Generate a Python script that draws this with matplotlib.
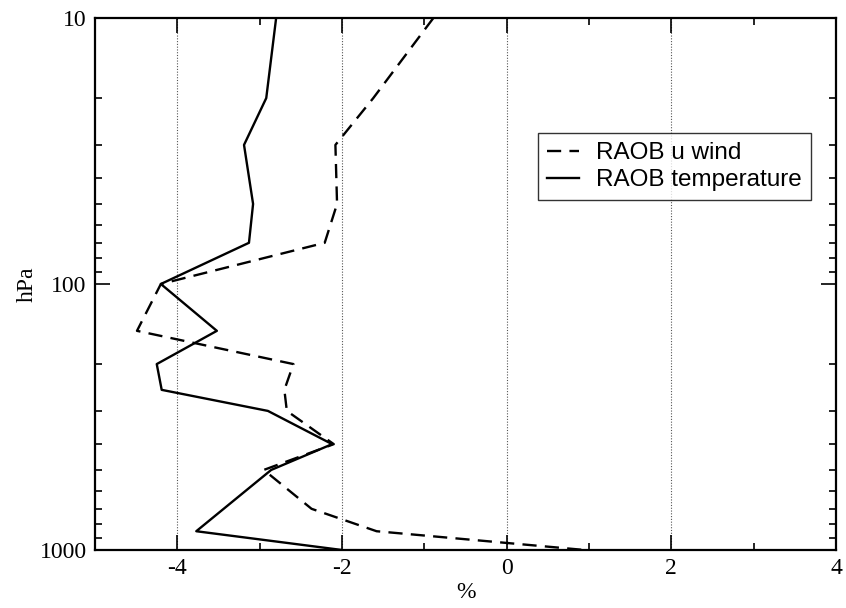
import matplotlib
matplotlib.use("Agg")
import matplotlib.pyplot as plt
from matplotlib.ticker import FixedLocator, NullFormatter

# pressure levels (hPa)
p_wind = [10, 20, 30, 50, 70, 100, 150, 200, 250, 300, 400, 500, 700, 850, 1000]
u_wind = [-0.89, -1.62, -2.08, -2.06, -2.21, -4.20, -4.49, -2.59, -2.70, -2.67, -2.10, -2.95, -2.37, -1.58, 0.95]

p_temp = [10, 20, 30, 50, 70, 100, 150, 200, 250, 300, 400, 500, 850, 1000]
temp = [-2.80, -2.92, -3.19, -3.08, -3.13, -4.20, -3.52, -4.25, -4.19, -2.90, -2.12, -2.86, -3.77, -2.00]

xticks = [-4, -2, 0, 2, 4]
xtick_labels = ["-4", "-2", "0", "2", "4"]
yticks = [10, 100, 1000]
ytick_labels = ["10", "100", "1000"]

fig = plt.figure(figsize=(8.46, 6.08), dpi=100)
ax = fig.add_axes([95/846, 58/608, 741/846, 532/608])

ax.plot(u_wind, p_wind, color="black", lw=1.7, ls=(0, (6, 3.5)), label="RAOB u wind")
ax.plot(temp, p_temp, color="black", lw=1.7, ls="-", label="RAOB temperature")

ax.set_yscale("log")
ax.set_ylim(1000, 10)
ax.set_xlim(-5, 4)

for gx in [-4, -2, 0, 2]:
    ax.axvline(gx, color="#555555", lw=0.8, ls=(0, (1, 1.5)), zorder=0)

ax.set_xticks(xticks)
ax.set_xticklabels(xtick_labels)
ax.xaxis.set_minor_locator(FixedLocator([-5, -3, -1, 1, 3]))
ax.set_yticks(yticks)
ax.set_yticklabels(ytick_labels)
ymin = [20, 30, 40, 50, 60, 70, 80, 90, 200, 300, 400, 500, 600, 700, 800, 900]
ax.yaxis.set_minor_locator(FixedLocator(ymin))
ax.yaxis.set_minor_formatter(NullFormatter())

serif = "Liberation Serif"
for lab in ax.get_xticklabels() + ax.get_yticklabels():
    lab.set_fontfamily(serif)
    lab.set_fontsize(17)

ax.tick_params(which="both", direction="in", top=True, right=True, width=1.2)
ax.tick_params(which="major", length=11, pad=6)
ax.tick_params(which="minor", length=5)

for s in ax.spines.values():
    s.set_linewidth(1.6)

ax.set_xlabel("%", fontfamily=serif, fontsize=17, labelpad=2)
ax.set_ylabel("hPa", fontfamily=serif, fontsize=17, labelpad=1)

leg = ax.legend(loc="upper left", bbox_to_anchor=(443/741, 1 - 115/532),
                prop={"family": "Liberation Sans", "size": 17.5},
                frameon=True, fancybox=False, edgecolor="black",
                handlelength=1.3, handletextpad=0.7, borderpad=0.38,
                labelspacing=0.2, borderaxespad=0)
leg.get_frame().set_linewidth(1.0)

fig.savefig("out.png", dpi=100)
